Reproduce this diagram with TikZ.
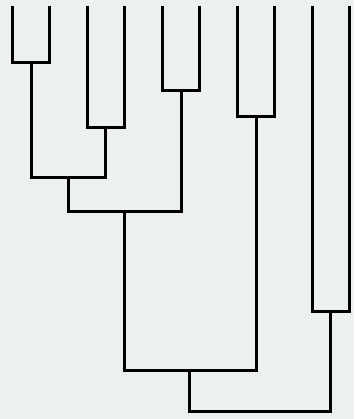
\documentclass[tikz,border=0pt]{standalone}
\usepackage{tikz}

\definecolor{bgpanel}{HTML}{ECF0F1}
\tikzset{
  link/.style={line width=3pt, black, line join=miter},
}

\begin{document}
\begin{tikzpicture}[x=1pt, y=-1pt]
    % Background and bounding box
    \fill[bgpanel] (0,0) rectangle (354,419);
    \useasboundingbox (0,0) rectangle (354,419);

    % Leaves
    \coordinate (l1) at (12,6);
    \coordinate (l2) at (49,6);
    \coordinate (l3) at (87,6);
    \coordinate (l4) at (124,6);
    \coordinate (l5) at (162,6);
    \coordinate (l6) at (199,6);
    \coordinate (l7) at (237,6);
    \coordinate (l8) at (274,6);
    \coordinate (l9) at (312,6);
    \coordinate (l10) at (349,6);

    % Merge points
    \coordinate (m12) at (31,63);
    \coordinate (m34) at (105,128);
    \coordinate (m56) at (181,91);
    \coordinate (m78) at (256,117);
    \coordinate (m910) at (330,311);
    \coordinate (m1234) at (68,178);
    \coordinate (m1to6) at (124,211);
    \coordinate (m1to8) at (189,370);
    \coordinate (root) at (260,411);

    % First level
    \draw[link] (l1) |- (m12) -| (l2);
    \draw[link] (l3) |- (m34) -| (l4);
    \draw[link] (l5) |- (m56) -| (l6);
    \draw[link] (l7) |- (m78) -| (l8);
    \draw[link] (l9) |- (m910) -| (l10);

    % Upper levels
    \draw[link] (m12) |- (m1234) -| (m34);
    \draw[link] (m1234) |- (m1to6) -| (m56);
    \draw[link] (m1to6) |- (m1to8) -| (m78);
    \draw[link] (m1to8) |- (root) -| (m910);
\end{tikzpicture}
\end{document}
